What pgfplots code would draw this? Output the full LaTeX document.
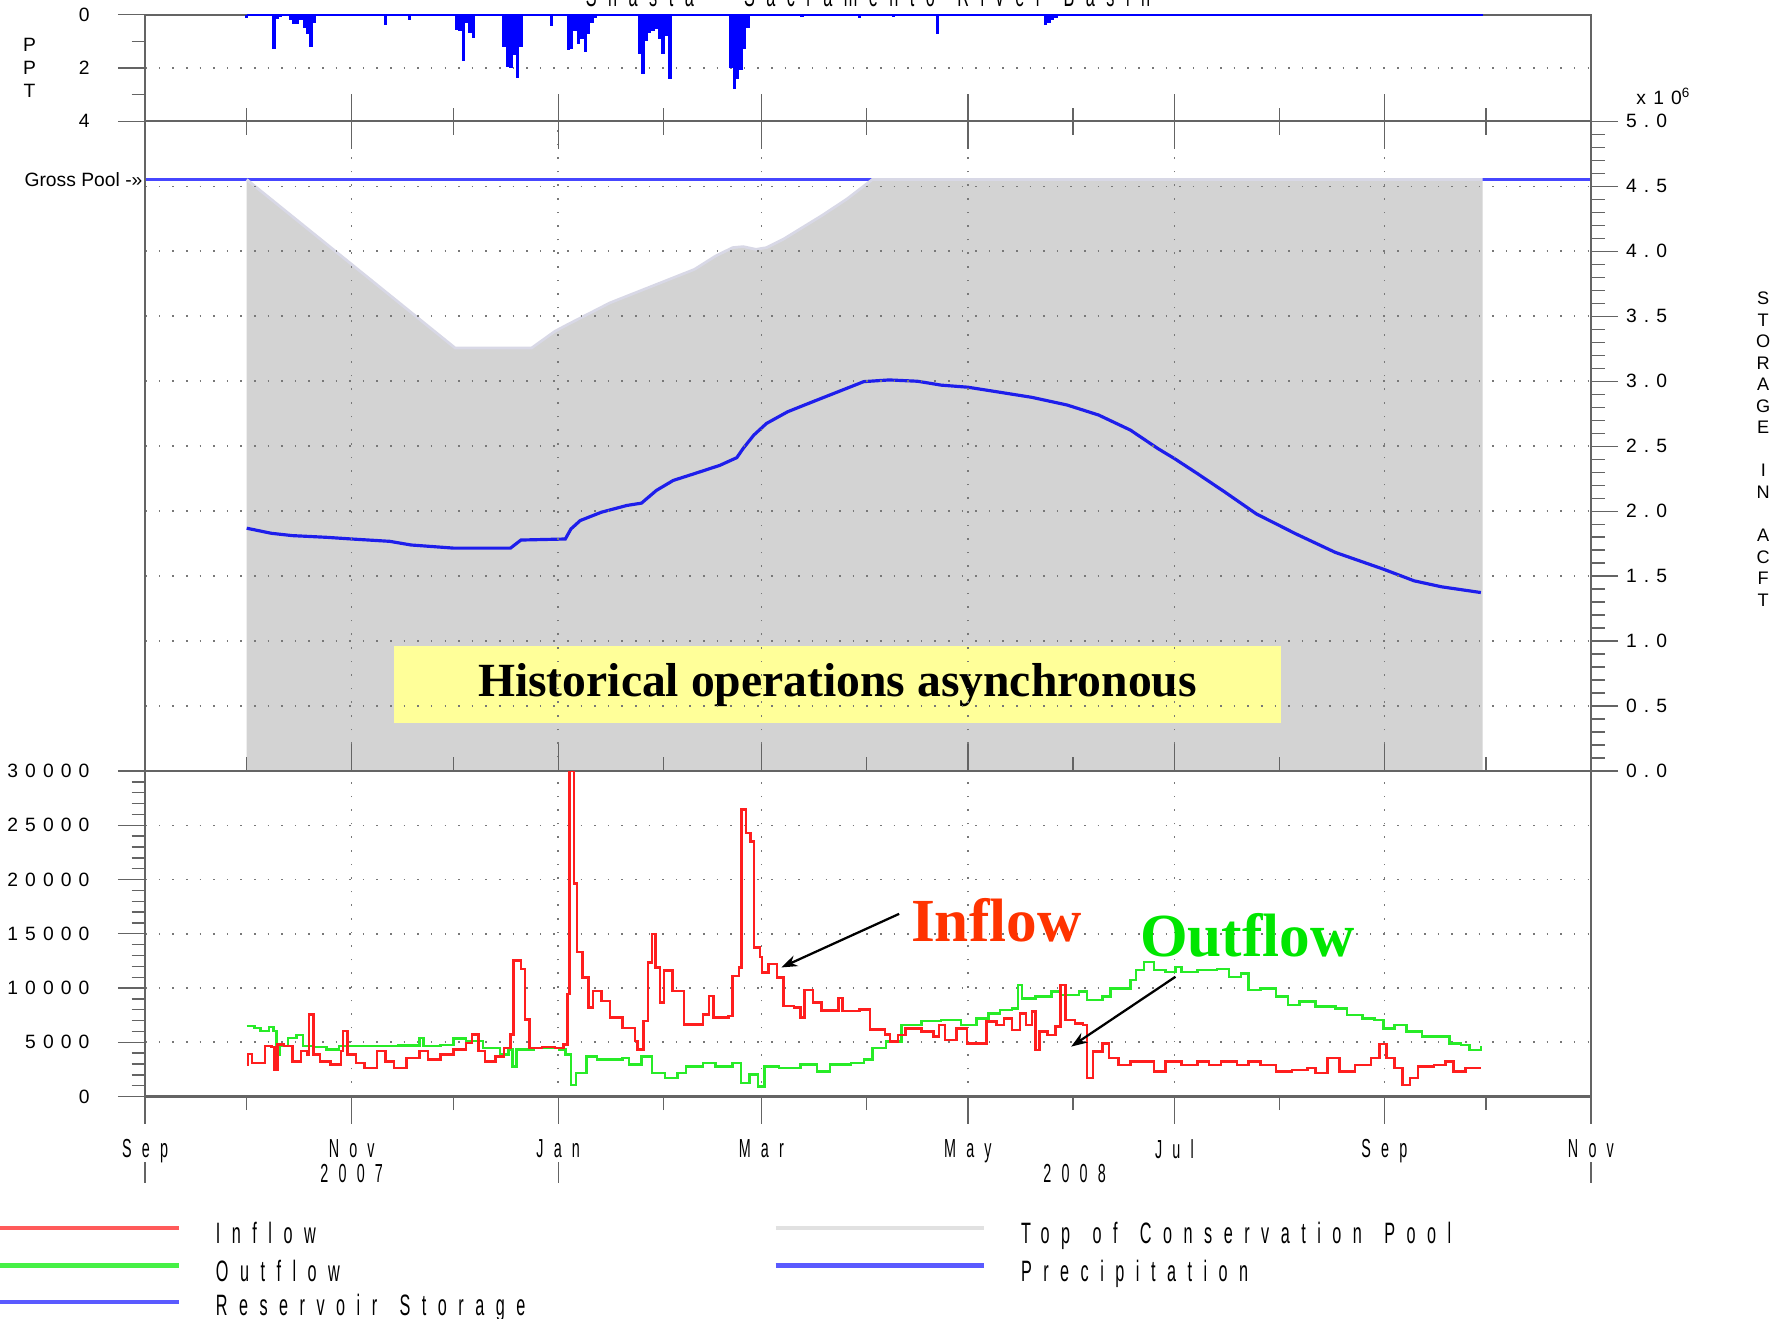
\documentclass[border=0pt]{standalone}
\usepackage{fontspec}
\usepackage{pgfplots}
\pgfplotsset{compat=1.18}
\usetikzlibrary{arrows.meta}
\setmainfont{Liberation Serif}
\newfontfamily\numfont[LetterSpace=37]{Liberation Sans}
\newfontfamily\condfont[FakeStretch=0.55,LetterSpace=39,WordSpace=1.4]{Liberation Sans}
\newfontfamily\plainsans{Liberation Sans}
\definecolor{axgray}{RGB}{100,100,100}
\definecolor{gridgray}{RGB}{120,120,120}
\definecolor{tocfill}{RGB}{211,211,211}
\definecolor{tocline}{RGB}{216,216,230}
\definecolor{poolblue}{RGB}{70,70,255}
\definecolor{stor}{RGB}{30,30,235}
\definecolor{precip}{RGB}{0,0,255}
\definecolor{inred}{RGB}{255,30,30}
\definecolor{outgreen}{RGB}{40,235,40}
\definecolor{annred}{RGB}{255,51,0}
\definecolor{anngreen}{RGB}{0,230,0}
\definecolor{boxyellow}{RGB}{255,255,153}
\definecolor{legred}{RGB}{255,90,90}
\definecolor{leggreen}{RGB}{70,240,70}
\definecolor{legblue}{RGB}{90,90,255}
\definecolor{leggray}{RGB}{225,225,225}

\pgfplotsset{
  base/.style={
    scale only axis, width=637.5pt, xmin=0, xmax=427,
    axis line style={axgray, line width=1pt},
    tick style={axgray, line width=0.6pt},
    major tick length=12pt, minor tick length=6pt,
    major grid style={gridgray, line width=0.7pt, dash pattern=on 0.7pt off 5.3pt},
    /pgf/number format/assume math mode=true,
    yticklabel style={font=\fontsize{8.5}{9}\numfont},
    xticklabel style={font=\fontsize{11.5}{12}\condfont},
    clip mode=individual,
    xtick={0,61,122,182,243,304,366,427},
    minor xtick={30,91,153,213,274,335,396},
  },
}

\begin{document}
\begin{tikzpicture}
\useasboundingbox (0,0) rectangle (784pt,-581.5pt);

% ---------------- Precipitation panel ----------------
\begin{axis}[base, at={(64pt,-53.5pt)}, anchor=south west, height=47pt,
  ymin=0, ymax=4, y dir=reverse,
  ytick={0,2,4}, minor ytick={1,3},
  ymajorgrids,
  xticklabels={}, xtick align=inside, xtick pos=bottom,
  ytick pos=left, ytick align=outside,
  yticklabel style={xshift=-9pt},
]
\addplot[precip, line width=1.5pt, ycomb] coordinates {
(30,0.12) (38,1.28) (39,0.15) (40,0.10) (43,0.20) (44,0.34) (45,0.34) (46,0.20)
(47,0.50) (48,0.73) (49,1.20) (50,0.30) (71,0.39) (78,0.20)
(92,0.59) (93,0.60) (94,1.74) (95,0.30) (96,0.70) (97,0.88)
(106,1.20) (107,1.95) (108,2.00) (109,1.50) (110,2.38) (111,1.20) (120,0.43)
(125,1.34) (126,1.30) (127,0.60) (128,1.10) (129,0.90) (130,1.40) (131,0.73) (132,0.30) (133,0.12)
(146,1.46) (147,2.22) (148,1.00) (149,0.67) (150,0.60) (151,0.55) (152,0.90) (153,1.46) (154,0.80) (155,2.41)
(173,2.00) (174,2.78) (175,2.40) (176,2.07) (177,1.28) (178,0.50)
(194,0.08) (211,0.12) (221,0.10) (234,0.74)
(266,0.40) (267,0.30) (268,0.20) (269,0.12) (270,0.06)
};
\addplot[precip, line width=1pt] coordinates {(30,0) (395,0)};
\end{axis}

% ---------------- Storage panel ----------------
\begin{axis}[base, at={(64pt,-340pt)}, anchor=south west, height=286.5pt,
  ymin=0, ymax=5, ytick={0,0.5,...,5}, minor y tick num=4,
  ytick pos=right, yticklabel pos=right, ytick align=outside,
  yticklabel style={/pgf/number format/.cd, fixed, fixed zerofill, precision=1},
  xticklabels={}, xtick pos=both, xtick align=inside,
  xmajorgrids, ymajorgrids, axis on top,
]
\addplot[fill=tocfill, draw=none] coordinates {
(30,4.552) (91.6,3.255) (114.1,3.255) (121,3.384) (124.75,3.436) (137.25,3.603)
(149.75,3.732) (162.25,3.861) (168.5,3.964) (173.5,4.028) (176.6,4.036) (180.4,4.015)
(183.5,4.028) (188.5,4.093) (199.75,4.273) (207.25,4.402) (214.75,4.552) (395,4.552)
} \closedcycle;
\addplot[poolblue, line width=1.2pt] coordinates {(0,4.552) (427,4.552)};
\addplot[tocline, line width=1.2pt] coordinates {
(30,4.552) (91.6,3.255) (114.1,3.255) (121,3.384) (124.75,3.436) (137.25,3.603)
(149.75,3.732) (162.25,3.861) (168.5,3.964) (173.5,4.028) (176.6,4.036) (180.4,4.015)
(183.5,4.028) (188.5,4.093) (199.75,4.273) (207.25,4.402) (214.75,4.552) (395,4.552)
};
\addplot[stor, line width=1.4pt] coordinates {
(30,1.869) (37.25,1.83) (43.5,1.812) (53.5,1.799) (61,1.786) (72.25,1.768) (78.5,1.74)
(91,1.716) (107.9,1.716) (111,1.778) (124.1,1.786) (125.75,1.863) (128.5,1.928)
(134.75,1.992) (142.25,2.044) (146.6,2.062) (151,2.16) (156,2.237) (162.25,2.289)
(169.75,2.353) (174.75,2.412) (176.6,2.482) (179.75,2.585) (183.5,2.675) (189.75,2.765)
(197.25,2.843) (204.75,2.92) (212.25,2.997) (219.75,3.01) (228.1,3.0) (235.1,2.97)
(243,2.954) (252.5,2.915) (261.9,2.876) (272.3,2.817) (281.6,2.74) (291,2.624)
(299.1,2.482) (304,2.405) (310.8,2.289) (318.9,2.147) (328.2,1.979) (339.9,1.825)
(351.5,1.683) (365.7,1.554) (374.8,1.464) (382.9,1.418) (394.5,1.374)
};
\node[font=\fontsize{8.5}{9}\numfont, anchor=center, xshift=32pt, yshift=11pt] at (axis cs:427,5) {x10\textsuperscript{6}};
\node[font=\fontsize{8.5}{9}\plainsans, anchor=east, inner sep=0pt, xshift=-1pt] at (axis cs:0,4.552) {Gross Pool -»};
\node[fill=boxyellow, minimum width=391.5pt, minimum height=34pt, inner sep=0pt,
      font=\fontsize{21}{24}\selectfont\bfseries] at (axis cs:204.5,0.663) {Historical operations asynchronous};
\end{axis}

% ---------------- Flow panel ----------------
\begin{axis}[base, at={(64pt,-483.5pt)}, anchor=south west, height=143.5pt,
  ymin=0, ymax=30000, ytick={0,5000,...,30000}, minor y tick num=4,
  scaled y ticks=false,
  yticklabel style={xshift=-9pt, /pgf/number format/.cd, set thousands separator={}, fixed},
  xticklabels={Sep,Nov,Jan,Mar,May,Jul,Sep,Nov},
  xticklabel style={yshift=-3.5pt},
  ytick pos=left, ytick align=outside, xtick pos=bottom, xtick align=outside,
  xmajorgrids, ymajorgrids,
]
\addplot[outgreen, line width=1.1pt, const plot] coordinates {
(30,6495) (32.25,6340) (34,6030) (36.6,6400) (37.9,6030) (38.75,3870) (39.75,4640) (42.25,5410)
(44.75,5660) (46.6,4640) (49.75,4550) (53.5,4330) (57.25,4640) (61,4640) (68.5,4640) (74.75,4700)
(81,5410) (82.25,4640) (87.25,4730) (91,5350) (94.75,5100) (99.75,4480) (104.75,3870) (107.25,4330)
(108.5,2780) (109.75,4330) (114.75,4480) (122.25,4330) (124.1,3870) (125.75,1080) (127.25,2170)
(130.4,3710) (133.5,3400) (137.25,3400) (141,3560) (142.9,2940) (146.6,3710) (149.75,2170)
(153.5,1700) (157.25,2170) (159.75,2780) (164.75,3090) (168.5,2780) (173.5,3090) (176,1240)
(178.5,2010) (181,930) (182.9,2780) (187.25,2630) (193.5,2940) (198.5,2320) (202.25,2940)
(208.5,3090) (212.25,3400) (214.75,4480) (218.8,5060) (223.4,6590) (229.3,6960) (235.1,7050)
(241,6590) (245.6,7210) (249.1,7670) (252.5,7970) (256,8130) (257.8,10270) (258.9,9050)
(263,9200) (267.7,9660) (270.5,9350) (275.8,9660) (278.2,8890) (282.8,9200) (285.1,9970)
(288.6,9970) (291,10730) (292.7,11650) (295,12420) (297.9,11650) (301.4,11500) (304.3,11960)
(306.1,11500) (310.8,11650) (316.6,11750) (320.1,11040) (323.6,11350) (325.9,9810) (329.4,9970)
(334,9200) (337.5,8430) (341,8740) (345.7,8280) (351.5,8130) (355,7510) (359.6,7210) (363.1,7050)
(365.7,6290) (369,6590) (372.5,5980) (377.1,5520) (380.6,5520) (385.3,4910) (388.7,4750)
(391.1,4290) (394.6,4690)
};
\addplot[inred, line width=1.1pt, const plot] coordinates {
(30,2940) (30.4,3930) (31.6,3090) (33.5,3090) (35.4,4640) (37.25,4550) (38.25,2470) (39.1,4790)
(41,4640) (43.5,3250) (46,4180) (47.9,3870) (48.4,7580) (49.1,7580) (49.75,3870) (51.6,3250)
(54.75,2940) (57.9,4180) (58.5,6030) (59.75,3870) (62.25,3090) (64.75,2630) (68.5,4180) (71,3250)
(73.5,2630) (77.25,3560) (81,4180) (83.5,3400) (87.25,3870) (91,4330) (94.75,4950) (96.6,5720)
(98.5,4180) (100.4,3250) (103.5,3710) (106,4480) (107.9,5720) (108.75,12530) (111,11750)
(112.25,7110) (113.5,4480) (117.25,4550) (121,4480) (123.5,4790) (124.75,9430) (125.4,30000)
(126.1,30000) (126.6,19640) (127.5,13300) (129.1,10980) (131,8200) (132.25,9740) (134.75,8810)
(137.25,7270) (141,6340) (144.75,5100) (145.4,4330) (147.25,6960) (148.5,12370) (149.75,15000)
(150.75,11910) (152,8660) (153.25,11600) (154.75,11600) (155.75,9740) (159.1,6650) (162.25,6650)
(164.75,7580) (166.6,9280) (167.9,7270) (172.25,7420) (173.5,11130) (175.4,11910) (176.2,26450)
(176.9,26450) (177.5,24280) (178.75,23510) (179.75,13760) (181.6,12840) (182.25,11440)
(184.1,12220) (186.6,10980) (188.5,8350) (191.6,8200) (193.5,7270) (194.75,9800) (197.25,8660)
(199.75,7950) (204.75,9060) (206,7890) (211,8040) (214.1,6190) (218.5,5720) (220,5060)
(222.3,5670) (224.6,6290) (229.3,5980) (232.8,5520) (234.5,6590) (236.2,5210) (239.7,6290)
(242.7,4910) (245.6,4910) (248.5,6900) (251.4,6590) (253.7,7210) (256,6130) (258.4,7670)
(260.1,6590) (261.9,7820) (263,4290) (264.2,5980) (266.5,5670) (268.8,6440) (270.3,10270)
(270.9,10270) (271.8,7050) (274.7,6750) (277,6590) (278.2,1690) (279.9,4140) (282.8,4910)
(284.6,3530) (287.5,2910) (291,3220) (294.5,3220) (297.9,2300) (301.4,3220) (306.1,2910)
(310.8,3220) (314.2,2910) (317.7,3220) (322.4,2910) (325.9,3220) (329.4,2910) (334,2300)
(338.7,2450) (343.3,2610) (345.7,2150) (349.2,3530) (352.7,2300) (357.3,2910) (362,3530)
(364.5,4820) (366.6,3530) (369,2610) (371.3,1070) (373.6,1690) (376,2760) (380.6,2910)
(384.1,3220) (386.4,2300) (389.9,2610) (394.6,2610)
};
% annotations
\draw[black, line width=1pt, -{Stealth[length=7pt,width=5pt]}] (axis cs:222.7,16840) -- (axis cs:187.9,11900);
\draw[black, line width=1pt, -{Stealth[length=7pt,width=5pt]}] (axis cs:304.3,11040) -- (axis cs:273.5,4600);
\node[anchor=base west, inner sep=0pt, text=annred, font=\fontsize{27}{30}\selectfont\bfseries] at (axis cs:226.1,14330) {Inflow};
\node[anchor=base west, inner sep=0pt, text=anngreen, font=\fontsize{27}{30}\selectfont\bfseries] at (axis cs:293.7,12870) {Outflow};
% years
\node[anchor=base, inner sep=0pt, font=\fontsize{11.5}{12}\condfont, yshift=-38pt] at (axis cs:61,0) {2007};
\node[anchor=base, inner sep=0pt, font=\fontsize{11.5}{12}\condfont, yshift=-38pt] at (axis cs:274.5,0) {2008};
\draw[axgray, line width=1pt] (axis cs:0,0) ++(0,-29pt) -- ++(0,-9pt);
\draw[axgray, line width=0.6pt] (axis cs:122,0) ++(0,-29pt) -- ++(0,-9pt);
\draw[axgray, line width=0.6pt] (axis cs:427,0) ++(0,-29pt) -- ++(0,-9pt);
\end{axis}

% title (cut by the page edge as in the original)
\node[anchor=base, inner sep=0pt, font=\fontsize{13}{14}\condfont] at (382.75pt,-3pt) {Shasta - Sacramento River Basin};
% side labels
\node[align=center, font=\fontsize{8.5}{10}\plainsans] at (13pt,-30pt) {P\\P\\T};
\node[align=center, font=\fontsize{8}{9.5}\plainsans] at (777.5pt,-198pt) {S\\T\\O\\R\\A\\G\\E\\[9.5pt]I\\N\\[9.5pt]A\\C\\F\\T};

% legend
\begin{scope}[line width=2pt]
\draw[legred] (0,-541.5pt) -- (79pt,-541.5pt);
\draw[leggreen] (0,-558pt) -- (79pt,-558pt);
\draw[legblue] (0,-574pt) -- (79pt,-574pt);
\draw[leggray] (342pt,-541.5pt) -- (434pt,-541.5pt);
\draw[legblue] (342pt,-558pt) -- (434pt,-558pt);
\end{scope}
\begin{scope}[every node/.style={anchor=base west, inner sep=0pt, font=\fontsize{13}{14}\condfont}]
\node at (95pt,-548.5pt) {Inflow};
\node at (95pt,-565pt) {Outflow};
\node at (95pt,-580pt) {Reservoir Storage};
\node at (450pt,-548.5pt) {Top of Conservation Pool};
\node at (450pt,-565pt) {Precipitation};
\end{scope}
\end{tikzpicture}
\end{document}
